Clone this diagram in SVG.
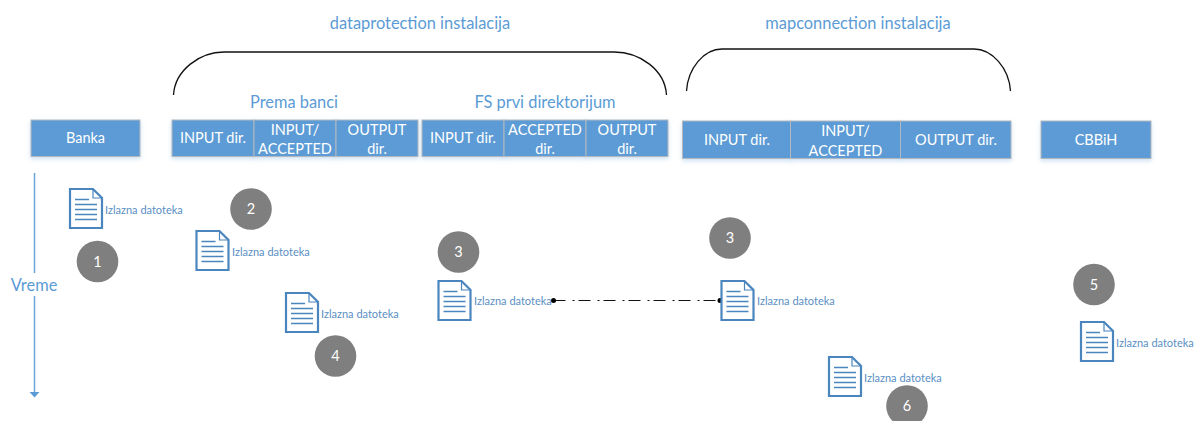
<svg xmlns="http://www.w3.org/2000/svg" width="1199" height="421" viewBox="0 0 1199 421">
<style>
text{font-family:"Lato","Open Sans","Liberation Sans",sans-serif}
.box{fill:#5b9bd5;stroke:#b4b9bf;stroke-width:1;filter:url(#sh)}
.bt{fill:#fff;font-size:14.5px;text-anchor:middle}
.hd{fill:#5b9bd5;font-size:16.4px;text-anchor:middle}
.dl{fill:#5b8fc4;font-size:11px}
.nm{fill:#fff;font-size:14.5px;text-anchor:middle}
.c{fill:#7f7f7f}
.brace{fill:none;stroke:#111;stroke-width:1.3}
.dp{fill:#fff;stroke:#4a86bd;stroke-width:2.200}
.ln{stroke:#4a86bd;stroke-width:1.500}
</style>
<defs>
<filter id="sh" x="-5%" y="-10%" width="110%" height="130%"><feDropShadow dx="0" dy="2" stdDeviation="2" flood-color="#5b9bd5" flood-opacity="0.300"/></filter>
<g id="doc">
<path class="dp" d="M1 1H24L33 10V40H1Z"/>
<path d="M24 1V10H33" fill="none" stroke="#4a86bd" stroke-width="1.200"/>
<path class="ln" d="M6 11.500H20M6 16.500H28M6 21.500H28M6 26.500H28M6 31.500H28"/>
</g>
<marker id="dot" markerWidth="6" markerHeight="6" refX="3" refY="3" markerUnits="userSpaceOnUse"><circle cx="3" cy="3" r="2.500" fill="#000"/></marker>
</defs>
<g id="connectors">
<path d="M34.500 173V273" fill="none" stroke="#6ba4d8" stroke-width="1.500"/>
<path d="M34.500 296V393" fill="none" stroke="#6ba4d8" stroke-width="1.500"/>
<path d="M29.500 392H39.500L34.500 397.500Z" fill="#5b9bd5"/>
<path d="M553.500 300.500H720" fill="none" stroke="#111" stroke-width="1.200" stroke-dasharray="12 7 2 4" marker-start="url(#dot)" marker-end="url(#dot)"/>
<path class="brace" d="M173.500 95C175 70 200 52 224 52H614C640 52 665 70 666.500 95"/>
<path class="brace" d="M686.500 91C688 68 704 49 722 49H974C992 49 1009 68 1010.500 91"/>
</g>
<g id="title-dataprotection"><text class="hd" x="420" y="29">dataprotection instalacija</text></g>
<g id="title-mapconnection"><text class="hd" x="858" y="29">mapconnection instalacija</text></g>
<g id="label-prema"><text class="hd" x="294" y="107.500">Prema banci</text></g>
<g id="label-fs"><text class="hd" x="545" y="107.500">FS prvi direktorijum</text></g>
<g id="label-vreme"><text class="hd" x="34" y="291">Vreme</text></g>
<g id="banka"><rect class="box" x="31" y="120" width="109" height="36.500"/><text class="bt" x="85.500" y="143">Banka</text></g>
<g id="prema-input"><rect class="box" x="172" y="120" width="82" height="36.500"/><text class="bt" x="213" y="142.500">INPUT dir.</text></g>
<g id="prema-accepted"><rect class="box" x="254" y="120" width="82" height="36.500"/><text class="bt" x="295" y="134.500">INPUT/</text><text class="bt" x="295" y="153.500">ACCEPTED</text></g>
<g id="prema-output"><rect class="box" x="336" y="120" width="82" height="36.500"/><text class="bt" x="377" y="134.500">OUTPUT</text><text class="bt" x="377" y="153.500">dir.</text></g>
<g id="fs-input"><rect class="box" x="422" y="120" width="82" height="36.500"/><text class="bt" x="463" y="143">INPUT dir.</text></g>
<g id="fs-accepted"><rect class="box" x="504" y="120" width="82" height="36.500"/><text class="bt" x="545" y="134.500">ACCEPTED</text><text class="bt" x="545" y="153.500">dir.</text></g>
<g id="fs-output"><rect class="box" x="586" y="120" width="82" height="36.500"/><text class="bt" x="627" y="134.500">OUTPUT</text><text class="bt" x="627" y="153.500">dir.</text></g>
<g id="map-input"><rect class="box" x="682.500" y="121" width="108" height="37.500"/><text class="bt" x="737" y="145">INPUT dir.</text></g>
<g id="map-accepted"><rect class="box" x="790.500" y="121" width="110" height="37.500"/><text class="bt" x="845.500" y="135.500">INPUT/</text><text class="bt" x="845.500" y="155.500">ACCEPTED</text></g>
<g id="map-output"><rect class="box" x="900.500" y="121" width="110.500" height="37.500"/><text class="bt" x="956" y="145">OUTPUT dir.</text></g>
<g id="cbbih"><rect class="box" x="1041" y="121" width="110" height="37.500"/><text class="bt" x="1096" y="145">CBBiH</text></g>
<g id="doc1"><use href="#doc" x="69" y="188"/><text class="dl" x="105" y="214">Izlazna datoteka</text></g>
<g id="doc2"><use href="#doc" x="195.500" y="230"/><text class="dl" x="232" y="255.500">Izlazna datoteka</text></g>
<g id="doc3"><use href="#doc" x="285" y="292"/><text class="dl" x="321" y="317.500">Izlazna datoteka</text></g>
<g id="doc4"><use href="#doc" x="437.500" y="280"/><text class="dl" x="474" y="305">Izlazna datoteka</text></g>
<g id="doc5"><use href="#doc" x="720.500" y="280"/><text class="dl" x="757" y="305">Izlazna datoteka</text></g>
<g id="doc6"><use href="#doc" x="828" y="356"/><text class="dl" x="864" y="381.500">Izlazna datoteka</text></g>
<g id="doc7"><use href="#doc" x="1080" y="321"/><text class="dl" x="1116" y="346.500">Izlazna datoteka</text></g>
<g id="n1"><circle class="c" cx="97.500" cy="261.500" r="20.800"/><text class="nm" x="97.500" y="266.500">1</text></g>
<g id="n2"><circle class="c" cx="251" cy="209" r="20.800"/><text class="nm" x="251" y="214">2</text></g>
<g id="n3a"><circle class="c" cx="458.500" cy="252" r="20.800"/><text class="nm" x="458.500" y="257">3</text></g>
<g id="n3b"><circle class="c" cx="730" cy="238" r="20.800"/><text class="nm" x="730" y="243">3</text></g>
<g id="n4"><circle class="c" cx="335.500" cy="356" r="20.800"/><text class="nm" x="335.500" y="361">4</text></g>
<g id="n5"><circle class="c" cx="1094" cy="284.500" r="20.800"/><text class="nm" x="1094" y="289.500">5</text></g>
<g id="n6"><circle class="c" cx="907" cy="406" r="20.800"/><text class="nm" x="907" y="411">6</text></g>
</svg>
